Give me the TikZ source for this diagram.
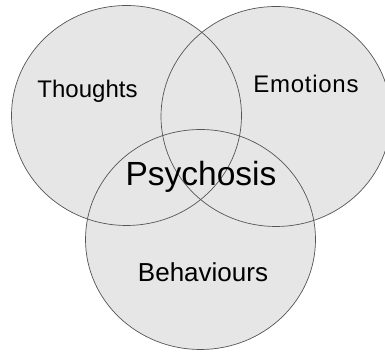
\documentclass[tikz,border=0pt]{standalone}
\usepackage{fontspec}
\setmainfont{Liberation Sans}
\usetikzlibrary{shapes.geometric}
\definecolor{vfill}{HTML}{E6E6E6}
\definecolor{vline}{HTML}{555555}
\tikzset{
  venn/.style={ellipse, draw=vline, line width=0.7pt, minimum width=230pt, minimum height=220pt, inner sep=0pt},
  vennfill/.style={ellipse, fill=vfill, minimum width=230pt, minimum height=220pt, inner sep=0pt},
  lbl/.style={anchor=base, inner sep=0pt, font=\fontsize{24}{28}\selectfont}
}
\begin{document}
\begin{tikzpicture}[x=1pt,y=1pt]
\useasboundingbox (0,0) rectangle (385,352);
\clip (0,0) rectangle (385,352);
\fill[white] (0,0) rectangle (385,352);
\node[vennfill] (fT) at (126.5,236.5) {};
\node[vennfill] (fE) at (276,235.5) {};
\node[vennfill] (fB) at (200.5,112.5) {};
\node[venn] (T) at (126.5,236.5) {};
\node[venn] (E) at (276,235.5) {};
\node[venn] (B) at (200.5,112.5) {};
\node[lbl] (tT) at (87.5,254) {Thoughts};
\node[lbl, font=\fontsize{24}{28}\selectfont\addfontfeatures{LetterSpace=3}] (tE) at (306,259) {Emotions};
\node[lbl, font=\fontsize{33.5}{38}\selectfont] (tP) at (201,166) {Psychosis};
\node[lbl, font=\fontsize{26}{30}\selectfont] (tB) at (203,70) {Behaviours};
\end{tikzpicture}
\end{document}
